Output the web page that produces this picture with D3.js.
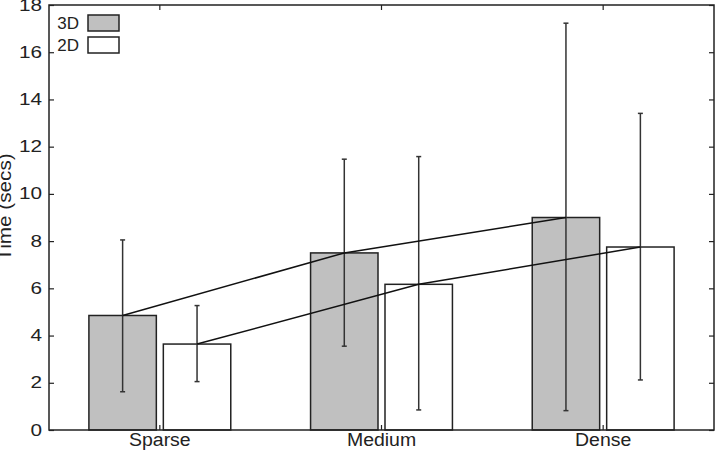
<!DOCTYPE html>
<html lang="en">
<head>
  <meta charset="UTF-8">
  <title>Time by density</title>
  <script src="https://d3js.org/d3.v7.min.js"></script>
  <style>
    body { margin: 0; background: #fff; }
    text { font-family: "Liberation Sans", Arial, sans-serif; font-size: 17px; fill: #222; }
  </style>
</head>
<body>
  <svg width="720" height="455"></svg>
  <script>
    const categories = ["Sparse", "Medium", "Dense"];
    const series = ["3D", "2D"];
    const means3D = [4.85, 7.5, 9.0];
    const means2D = [3.64, 6.17, 7.75];
    const low3D = [1.62, 3.55, 0.82];
    const high3D = [8.05, 11.47, 17.23];
    const low2D = [2.05, 0.85, 2.12];
    const high2D = [5.27, 11.58, 13.41];
    const yTicks = [0, 2, 4, 6, 8, 10, 12, 14, 16, 18];

    const fills = { "3D": "#c0c0c0", "2D": "#ffffff" };
    const values = { "3D": means3D, "2D": means2D };
    const lows = { "3D": low3D, "2D": low2D };
    const highs = { "3D": high3D, "2D": high2D };

    const svg = d3.select("svg");
    const plotL = 49, plotR = 714, plotT = 5, plotB = 430;

    // the reference text is drawn a little wider than the font's natural width
    function stretch(sel, k) {
      sel.each(function () {
        const w = this.getComputedTextLength();
        d3.select(this).attr("textLength", w * k).attr("lengthAdjust", "spacingAndGlyphs");
      });
    }

    const x0 = d3.scaleBand().domain(categories).range([plotL, plotR])
      .paddingInner(0.36).paddingOuter(0.18);
    const x1 = d3.scaleBand().domain(series).range([0, x0.bandwidth()])
      .paddingInner(0.094);
    const y = d3.scaleLinear().domain([0, 18]).range([plotB, plotT]);

    // bars
    series.forEach(s => {
      svg.selectAll(".bar" + s)
        .data(categories)
        .enter()
        .append("rect")
        .attr("x", d => x0(d) + x1(s))
        .attr("y", (d, i) => y(values[s][i]))
        .attr("width", x1.bandwidth())
        .attr("height", (d, i) => y(0) - y(values[s][i]))
        .attr("fill", fills[s])
        .attr("stroke", "#222")
        .attr("stroke-width", 1.5);
    });

    // error bars
    const cx = (s, d) => x0(d) + x1(s) + x1.bandwidth() / 2;
    series.forEach(s => {
      categories.forEach((d, i) => {
        const g = svg.append("g").attr("stroke", "#333").attr("stroke-width", 1.5);
        g.append("line").attr("x1", cx(s, d)).attr("x2", cx(s, d))
          .attr("y1", y(lows[s][i])).attr("y2", y(highs[s][i]));
        [lows[s][i], highs[s][i]].forEach(v => {
          g.append("line").attr("x1", cx(s, d) - 2.5).attr("x2", cx(s, d) + 2.5)
            .attr("y1", y(v)).attr("y2", y(v));
        });
      });
    });

    // lines joining bar tops
    const line = d3.line();
    series.forEach(s => {
      svg.append("path")
        .attr("d", line(categories.map((d, i) => [cx(s, d), y(values[s][i])])))
        .attr("fill", "none")
        .attr("stroke", "#111")
        .attr("stroke-width", 1.5);
    });

    // frame
    svg.append("rect")
      .attr("x", plotL).attr("y", plotT)
      .attr("width", plotR - plotL).attr("height", plotB - plotT)
      .attr("fill", "none").attr("stroke", "#222").attr("stroke-width", 1.5);

    // axes
    const yAxis = d3.axisLeft(y).tickValues(yTicks).tickSizeInner(-5).tickSizeOuter(0).tickPadding(7);
    const gy = svg.append("g").attr("transform", `translate(${plotL},0)`).call(yAxis);
    const gyr = svg.append("g").attr("transform", `translate(${plotR},0)`)
      .call(d3.axisRight(y).tickValues(yTicks).tickSizeInner(-5).tickSizeOuter(0).tickFormat(""));
    const xAxis = d3.axisBottom(x0).tickSizeInner(-5).tickSizeOuter(0).tickPadding(3);
    const gx = svg.append("g").attr("transform", `translate(0,${plotB})`).call(xAxis);
    const gxt = svg.append("g").attr("transform", `translate(0,${plotT})`)
      .call(d3.axisTop(x0).tickSizeInner(-5).tickSizeOuter(0).tickFormat(""));
    [gy, gyr, gx, gxt].forEach(g => {
      g.select(".domain").remove();
      g.attr("font-size", null).attr("font-family", null);
      g.selectAll(".tick line").attr("stroke", "#222").attr("stroke-width", 1.2);
      g.selectAll("text").attr("fill", "#222");
    });
    gy.selectAll("text").attr("dy", "0.3em").call(stretch, 1.22);
    gx.selectAll("text").style("font-size", "18px").call(stretch, 1.08);

    svg.append("text")
      .attr("transform", "translate(11,207) rotate(-90)")
      .attr("text-anchor", "middle")
      .style("font-size", "18px")
      .text("Time (secs)")
      .call(stretch, 1.15);

    // legend
    series.forEach((s, i) => {
      const ly = 15 + i * 22;
      svg.append("text").attr("x", 79).attr("y", ly + 14).attr("text-anchor", "end").text(s);
      svg.append("rect").attr("x", 88).attr("y", ly)
        .attr("width", 31).attr("height", 16)
        .attr("fill", fills[s]).attr("stroke", "#222").attr("stroke-width", 1.5);
    });
  </script>
</body>
</html>
